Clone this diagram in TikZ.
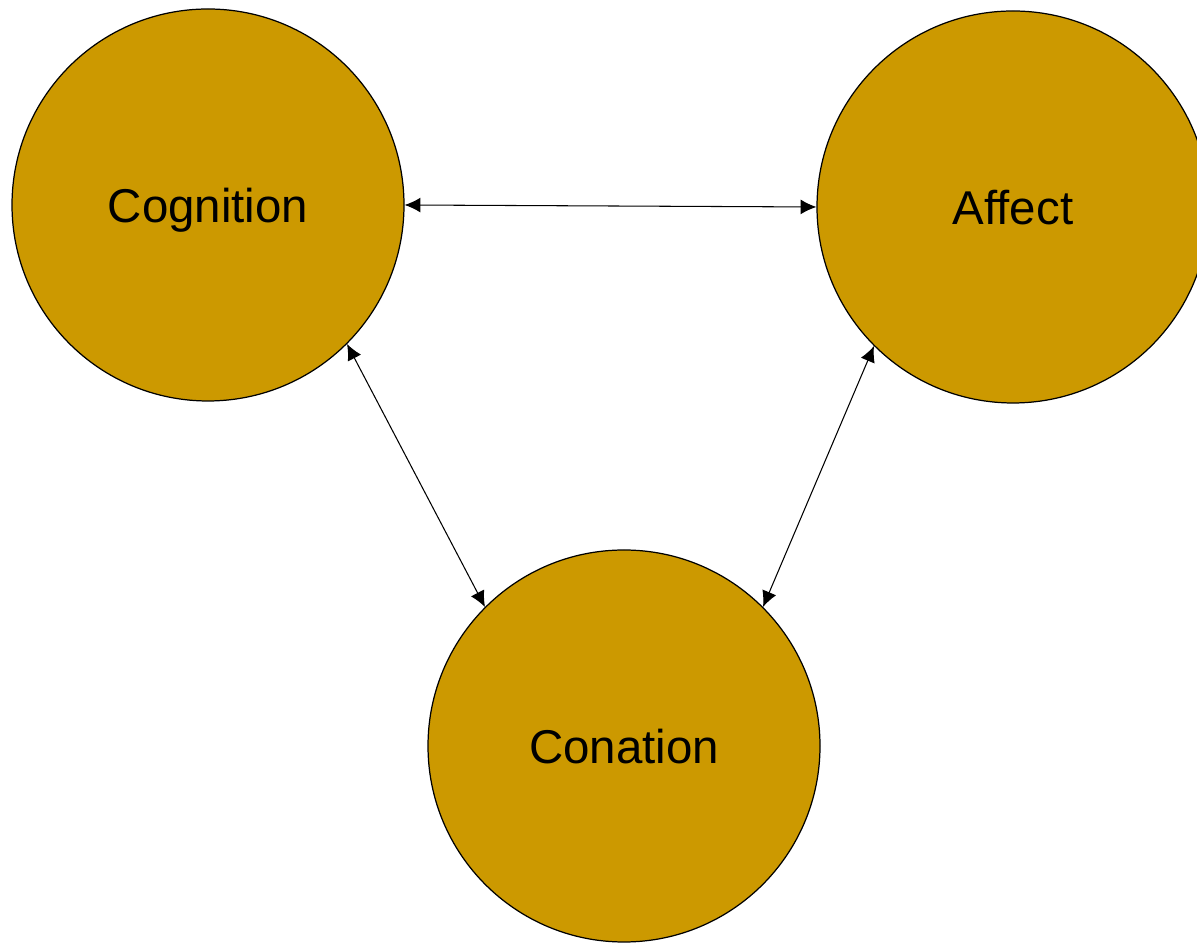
\documentclass[tikz,border=0pt]{standalone}
\usepackage{fontspec}
\setmainfont[Ligatures=NoCommon]{Liberation Sans}
\usetikzlibrary{arrows.meta}
\definecolor{gold}{HTML}{CC9900}
\tikzset{
    blob/.style={circle, draw=black, line width=0.7pt, fill=gold, minimum size=7.84cm, inner sep=0pt,
        font=\fontsize{27}{32}\selectfont, text depth=0pt, text height=0.72cm},
    link/.style={black, line width=0.6pt, {Latex[length=9pt,width=8.5pt]}-{Latex[length=9pt,width=8.5pt]}}
}

\begin{document}
\begin{tikzpicture}
        \useasboundingbox (0,0) rectangle (23.94,18.86);
        \clip (0,0) rectangle (23.94,18.86);
        \node[blob] (cog) at (4.16,14.76) {Cognition};
        \node[blob] (aff) at (20.26,14.72) {Affect};
        \node[blob] (con) at (12.48,3.94) {Conation};
        \draw[link] (cog.east) -- (aff.west);
        \draw[link] (cog.south east) -- (con.north west);
        \draw[link] (aff.south west) -- (con.north east);
    \end{tikzpicture}
\end{document}
